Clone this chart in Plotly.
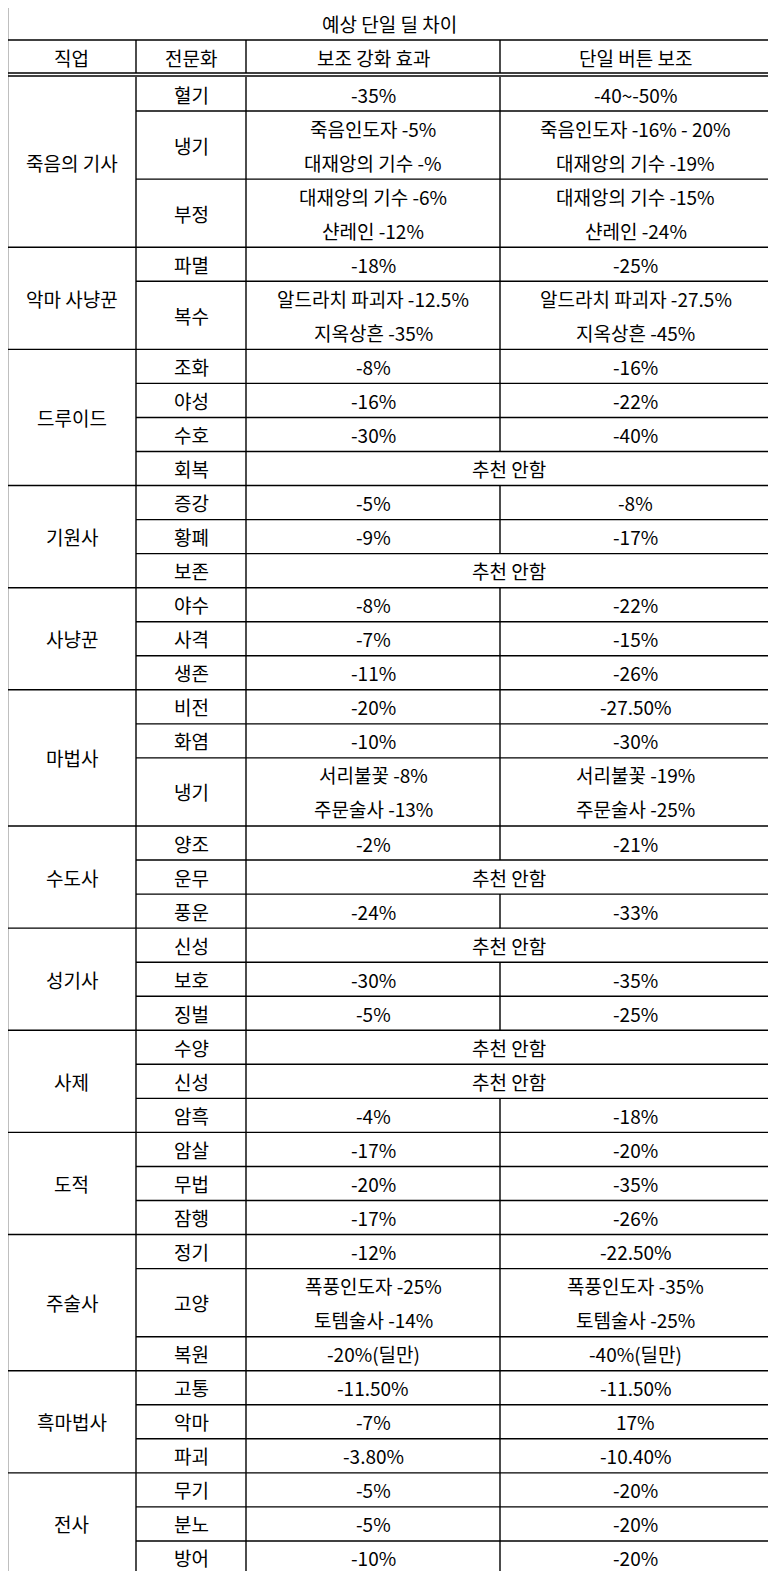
import plotly.graph_objects as go

title = "예상 단일 딜 차이"
headers = ["직업", "전문화", "보조 강화 효과", "단일 버튼 보조"]
classes = ["죽음의 기사", "악마 사냥꾼", "드루이드", "기원사", "사냥꾼", "마법사", "수도사",
           "성기사", "사제", "도적", "주술사", "흑마법사", "전사"]
specs = [
    ["혈기", "냉기", "부정"],
    ["파멸", "복수"],
    ["조화", "야성", "수호", "회복"],
    ["증강", "황폐", "보존"],
    ["야수", "사격", "생존"],
    ["비전", "화염", "냉기"],
    ["양조", "운무", "풍운"],
    ["신성", "보호", "징벌"],
    ["수양", "신성", "암흑"],
    ["암살", "무법", "잠행"],
    ["정기", "고양", "복원"],
    ["고통", "악마", "파괴"],
    ["무기", "분노", "방어"],
]
NR = "추천 안함"
aux_effect = [
    ["-35%", "죽음인도자 -5%<br>대재앙의 기수 -%", "대재앙의 기수 -6%<br>샨레인 -12%"],
    ["-18%", "알드라치 파괴자 -12.5%<br>지옥상흔 -35%"],
    ["-8%", "-16%", "-30%", NR],
    ["-5%", "-9%", NR],
    ["-8%", "-7%", "-11%"],
    ["-20%", "-10%", "서리불꽃 -8%<br>주문술사 -13%"],
    ["-2%", NR, "-24%"],
    [NR, "-30%", "-5%"],
    [NR, NR, "-4%"],
    ["-17%", "-20%", "-17%"],
    ["-12%", "폭풍인도자 -25%<br>토템술사 -14%", "-20%(딜만)"],
    ["-11.50%", "-7%", "-3.80%"],
    ["-5%", "-5%", "-10%"],
]
single_button = [
    ["-40~-50%", "죽음인도자 -16% - 20%<br>대재앙의 기수 -19%", "대재앙의 기수 -15%<br>샨레인 -24%"],
    ["-25%", "알드라치 파괴자 -27.5%<br>지옥상흔 -45%"],
    ["-16%", "-22%", "-40%", NR],
    ["-8%", "-17%", NR],
    ["-22%", "-15%", "-26%"],
    ["-27.50%", "-30%", "서리불꽃 -19%<br>주문술사 -25%"],
    ["-21%", NR, "-33%"],
    [NR, "-35%", "-25%"],
    [NR, NR, "-18%"],
    ["-20%", "-35%", "-26%"],
    ["-22.50%", "폭풍인도자 -35%<br>토템술사 -25%", "-40%(딜만)"],
    ["-11.50%", "17%", "-10.40%"],
    ["-20%", "-20%", "-20%"],
]

W, H = 776, 1579
OFF = 8  # page body margin
X = [7, 136, 246, 500, 771]
TOP, T1, T2, D0, BOT = 6, 40, 74, 77, 1575
units = sum((2 if "<br>" in a or "<br>" in b else 1)
            for ga, gb in zip(aux_effect, single_button) for a, b in zip(ga, gb))
U = (BOT - D0) / units
FONT = dict(family="Malgun Gothic, Noto Sans CJK KR", size=19, color="#000")

shapes, ann = [], []
def line(x0, y0, x1, y1, w=1.4):
    shapes.append(dict(type="line", x0=x0, y0=y0, x1=x1, y1=y1, line=dict(color="black", width=w)))
def text(x, y, t):
    parts = t.split("<br>")
    n = len(parts)
    for k, p in enumerate(parts):
        yy = y + (k - (n - 1) / 2) * U
        ann.append(dict(x=x, y=yy, text=p, showarrow=False, font=FONT,
                        xanchor="center", yanchor="middle"))

for gx in [140, 245]:
    shapes.append(dict(type="line", x0=gx, y0=OFF, x1=gx, y1=TOP, line=dict(color="#d4d4d4", width=1)))

text((X[0] + X[4]) / 2, (TOP + T1) / 2, title)
for i, h in enumerate(headers):
    text((X[i] + X[i + 1]) / 2, (T1 + T2) / 2, h)
line(X[0], T1, X[4], T1)
line(X[0], T2 - 1, X[4], T2 - 1)
line(X[0], T2 + 2, X[4], T2 + 2)
for xi in X[1:4]:
    line(xi, T1, xi, T2 - 1)

y = D0
for cls, sp, ga, gb in zip(classes, specs, aux_effect, single_button):
    gy0 = y
    for s, a, b in zip(sp, ga, gb):
        h = U * (2 if "<br>" in a or "<br>" in b else 1)
        cy = y + h / 2
        text((X[1] + X[2]) / 2, cy, s)
        line(X[2], y, X[2], y + h)
        if a == NR and b == NR:
            text((X[2] + X[4]) / 2, cy, a)
        else:
            text((X[2] + X[3]) / 2, cy, a)
            text((X[3] + X[4]) / 2, cy, b)
            line(X[3], y, X[3], y + h)
        if y > gy0:
            line(X[1], y, X[4], y)
        y += h
    text((X[0] + X[1]) / 2, (gy0 + y) / 2, cls)
    line(X[1], gy0, X[1], y)
    line(X[0], y, X[4], y)

shapes.append(dict(type="rect", x0=X[0], y0=TOP, x1=X[4], y1=BOT, line=dict(color="black", width=2.5)))

fig = go.Figure()
fig.update_layout(width=W - 2 * OFF, height=H - 2 * OFF, margin=dict(l=0, r=0, t=0, b=0),
                  paper_bgcolor="white", plot_bgcolor="white",
                  xaxis=dict(range=[OFF, W - OFF], visible=False, fixedrange=True),
                  yaxis=dict(range=[H - OFF, OFF], visible=False, fixedrange=True),
                  shapes=shapes, annotations=ann, showlegend=False)
fig.write_html("out.html", config=dict(displayModeBar=False))
